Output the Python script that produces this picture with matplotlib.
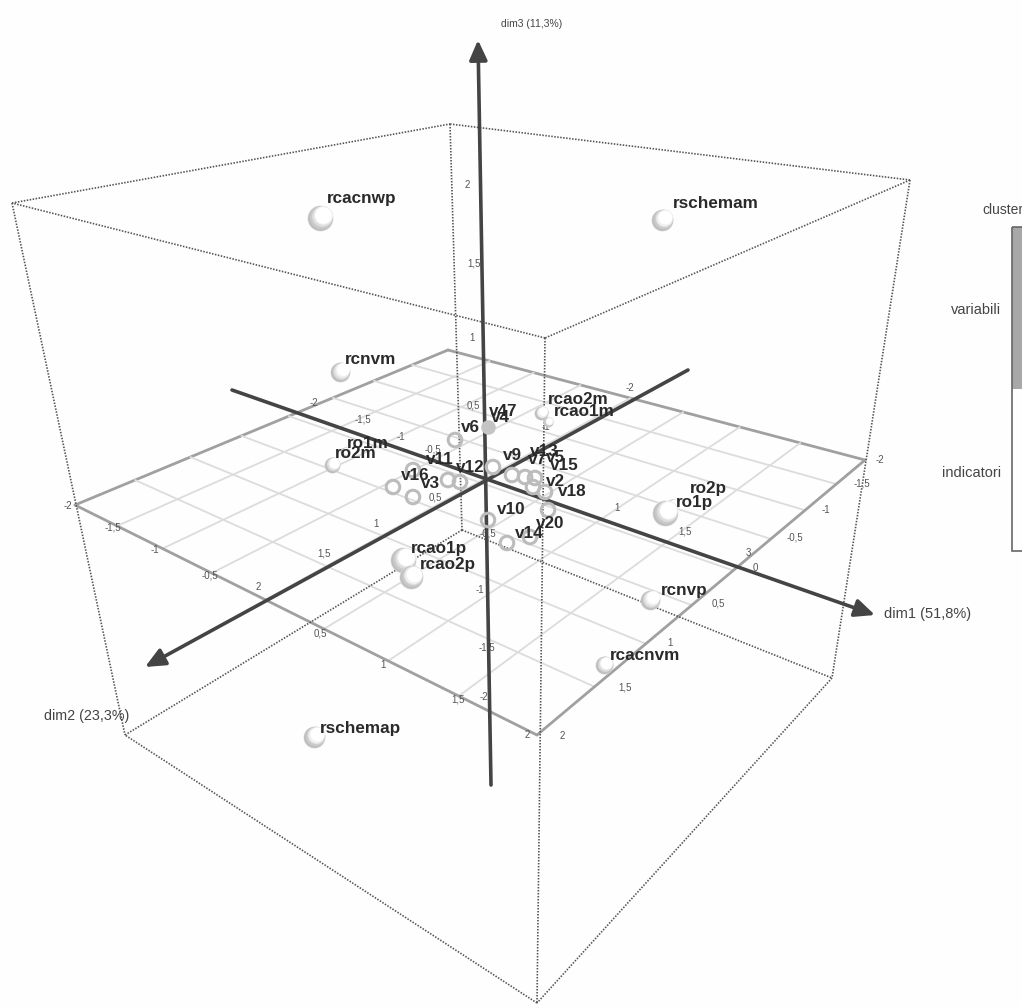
import numpy as np
import matplotlib
matplotlib.use('Agg')
import matplotlib.pyplot as plt
from matplotlib.patches import Rectangle

plt.rcParams['font.family'] = ['Liberation Sans', 'DejaVu Sans']

# Spheres: label, screen x, screen y, radius, label x, label y
ind_names = ['rcacnwp','rschemam','rcnvm','rcao2m','rcao1m','ro1m','ro2m','ro2p','ro1p','rcnvp','rcacnvm','rcao1p','rcao2p','rschemap']
ind_x = [320,662,340,541,548,345,332,672,665,650,604,403,411,314]
ind_y = [218,220,372,413,422,452,465,505,513,600,665,560,577,737]
ind_r = [13,11,10,7,5,5,8,6,13,10,9,13,12,11]
ind_lx = [327,673,345,548,554,347,335,690,676,661,610,411,420,320]
ind_ly = [199,204,359,399,412,444,454,488,502,590,656,548,564,728]

# Variable rings
var_x = [455,393,413,448,460,413,493,512,525,535,533,545,488,507,530,548]
var_y = [440,487,497,480,482,470,467,475,477,478,487,492,520,543,537,510]
var_names = ['v47','v4','v6','v11','v12','v16','v3','v9','v13','v7','v5','v15','v2','v18','v10','v14','v20']
var_lx = [489,491,461,426,456,401,421,503,530,528,546,550,546,558,497,515,536]
var_ly = [412,417,428,459,467,475,484,456,451,460,458,466,482,492,510,533,523]

floor_ticks = [-2,-1.5,-1,-0.5,0,0.5,1,1.5,2]
floor_s = [(75,505),(537,735),(865,460),(448,350)]

tick_txt = ['2','1,5','1','0,5','-0,5','-1','-1,5','-2',
            '1','1,5','3','0',
            '-1,5','-1','-2','1','1,5','2','-0,5','0,5','-1','-2',
            '-2','-1,5','-1','-0,5','0,5','1','1,5','2',
            '2','1,5','1','0,5','-0,5','-1','-1,5','-2']
tick_x = [467,474,472,473,488,480,487,484,
          617,685,748,755,
          363,401,314,376,324,258,433,435,546,630,
          68,113,155,210,320,383,458,527,
          562,625,670,718,795,826,862,880]
tick_y = [185,263,338,405,533,590,647,697,
          508,532,553,568,
          420,437,403,524,553,587,450,497,427,388,
          506,527,550,575,633,665,700,735,
          736,688,643,604,537,510,484,460]

fig = plt.figure(figsize=(10.22,10.07), dpi=100, facecolor='#fefefe')
ax = fig.add_axes([0,0,1,1])
ax.set_xlim(0,1022); ax.set_ylim(1007,0); ax.axis('off')

# homography for the floor
def homography(src,dst):
    A=[]
    for (x,y),(X,Y) in zip(src,dst):
        A.append([x,y,1,0,0,0,-X*x,-X*y,-X]); A.append([0,0,0,x,y,1,-Y*x,-Y*y,-Y])
    return np.linalg.svd(np.array(A,float))[2][-1].reshape(3,3)
H = homography([(-2,2),(2,2),(2,-2),(-2,-2)], floor_s)
def proj(s,t):
    p=H@np.array([s,t,1.0]); return p[0]/p[2],p[1]/p[2]
for v in floor_ticks:
    edge = abs(v)==2
    for a,b in [(proj(v,-2),proj(v,2)),(proj(-2,v),proj(2,v))]:
        ax.plot([a[0],b[0]],[a[1],b[1]],color='#dcdcdc' if not edge else '#a0a0a0',lw=1.3 if not edge else 2.0,zorder=1,solid_capstyle='round')

# Bounding box
box_top = [(12,203),(450,124),(910,180),(545,338)]
box_bot = [(125,735),(462,530),(832,678),(537,1003)]
dot = dict(color='#555555',lw=1.2,ls=(0,(0.9,0.9)),zorder=2)
for i in range(4):
    for quad in (box_top,box_bot):
        a,b=quad[i],quad[(i+1)%4]
        ax.plot([a[0],b[0]],[a[1],b[1]],**dot)
    a,b=box_top[i],box_bot[i]
    ax.plot([a[0],b[0]],[a[1],b[1]],**dot)

# Axes with arrows
axes_lines = [((491,785),(478,40)),((232,390),(875,615)),((688,370),(145,667))]
for a,b in axes_lines:
    ax.annotate('',xy=b,xytext=a,zorder=4,arrowprops=dict(arrowstyle='-|>,head_length=0.6,head_width=0.27',mutation_scale=20,color='#444444',lw=2.6,shrinkA=0,shrinkB=0))

# Tick labels
for t,x,y in zip(tick_txt,tick_x,tick_y):
    ax.text(x,y,t,fontsize=7,color='#555555',ha='center',va='center',zorder=3)

# Spheres: gray crescent lower-left, white toward upper-right
sphere_f = [1,0.95,0.88,0.80,0.72,0.64]
sphere_c = ['#e2e2e2','#bebebe','#cacaca','#dedede','#f0f0f0','#ffffff']
for x,y,r in zip(ind_x,ind_y,ind_r):
    for f,c in zip(sphere_f,sphere_c):
        d=(1-f)*r*0.72
        ax.scatter([x+d],[y-d],s=(2*r*f*0.72)**2,color=c,linewidths=0,zorder=5)
# Rings
ax.scatter(var_x,var_y,s=95,facecolors='none',edgecolors='#bcbcbc',linewidths=2.2,zorder=5)
ax.scatter([488],[427],s=110,color='#c4c4c4',linewidths=0,zorder=5)

# Labels
for t,x,y in zip(ind_names,ind_lx,ind_ly):
    ax.text(x,y,t,fontsize=12.3,fontweight='bold',color='#2a2a2a',ha='left',va='center',zorder=6)
for t,x,y in zip(var_names,var_lx,var_ly):
    ax.text(x,y,t,fontsize=12.3,fontweight='bold',color='#2a2a2a',ha='left',va='center',zorder=6)

# Axis names
ax.text(532,24,'dim3 (11,3%)',fontsize=7.5,color='#444444',ha='center',va='center')
ax.text(884,614,'dim1 (51,8%)',fontsize=10.5,color='#444444',ha='left',va='center')
ax.text(44,716,'dim2 (23,3%)',fontsize=10.3,color='#444444',ha='left',va='center')

# Legend
ax.text(982,210,'cluster',fontsize=10,color='#444444',ha='left',va='center',clip_on=True)
ax.text(1001,310,'variabili',fontsize=10.5,color='#444444',ha='right',va='center')
ax.text(1001,473,'indicatori',fontsize=10.5,color='#444444',ha='right',va='center')
ax.add_patch(Rectangle((1012,227),12,162,facecolor='#a8a8a8',edgecolor='none',zorder=3))
ax.add_patch(Rectangle((1012,227),12,324,facecolor='none',edgecolor='#666666',lw=1.2,zorder=4))

fig.savefig('out.png',dpi=100,facecolor=fig.get_facecolor())
